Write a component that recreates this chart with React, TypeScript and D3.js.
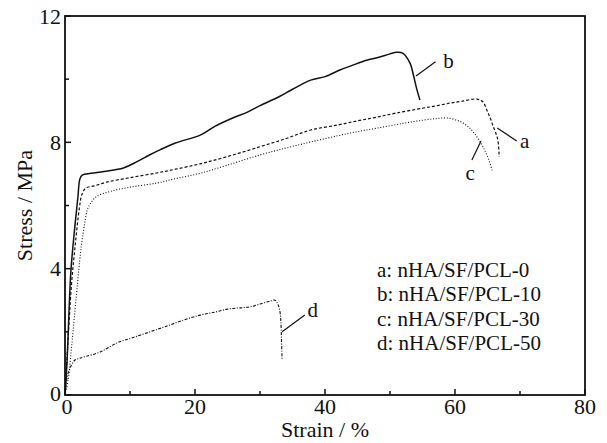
import React from "react";
import * as d3 from "d3";

// strain (%) / stress (MPa)
const strainA = [0, 0.4, 1.0, 1.6, 2.2, 2.6, 3.2, 4.5, 6.4, 10, 14.1, 17, 20.8, 25, 30, 34, 37.8, 42, 45, 48, 51, 55, 57, 59.2, 61, 63.4, 64.3, 64.9, 65.4, 65.9, 66.3, 66.6, 66.8];
const stressA = [0, 1.5, 3.5, 4.8, 5.9, 6.35, 6.55, 6.62, 6.74, 6.88, 7.03, 7.15, 7.32, 7.55, 7.86, 8.12, 8.39, 8.55, 8.68, 8.8, 8.93, 9.08, 9.15, 9.24, 9.3, 9.37, 9.28, 9.02, 8.78, 8.49, 8.28, 8.07, 7.54];

const strainB = [0, 0.3, 0.9, 1.5, 2.0, 2.3, 2.7, 4, 6, 9, 11, 13, 14.6, 17, 20.8, 23, 25.8, 28, 30, 33, 35, 37.8, 40, 42.3, 44, 46.4, 48, 50, 51, 52, 53.1, 53.6, 54.1, 54.6];
const stressB = [0, 1.0, 3.9, 5.3, 6.3, 6.85, 6.97, 7.02, 7.08, 7.19, 7.38, 7.6, 7.76, 7.98, 8.23, 8.5, 8.77, 8.95, 9.16, 9.45, 9.68, 9.97, 10.08, 10.29, 10.42, 10.6, 10.68, 10.8, 10.85, 10.82, 10.5, 10.13, 9.7, 9.34];

const strainC = [0, 0.5, 1.0, 1.5, 2.0, 2.5, 3.0, 3.5, 4.2, 5, 7, 10, 14.1, 17, 20.8, 25, 30, 34, 37.8, 42, 45, 48, 52, 55, 57, 58.8, 60.8, 62, 62.8, 63.6, 64.3, 65.1, 65.8];
const stressC = [0, 0.5, 1.5, 2.6, 3.7, 4.7, 5.4, 5.9, 6.15, 6.3, 6.45, 6.58, 6.71, 6.85, 7.02, 7.28, 7.6, 7.82, 8.01, 8.21, 8.34, 8.45, 8.6, 8.7, 8.75, 8.77, 8.66, 8.5, 8.33, 8.1, 7.86, 7.5, 7.06];

const strainD = [0, 0.2, 0.5, 1.0, 1.5, 2.2, 3.2, 5.4, 8, 10.5, 13.1, 15.5, 18.2, 20.8, 23, 25, 27, 28.5, 30, 31.3, 32.3, 32.8, 33.1, 33.2, 33.3, 33.4];
const stressD = [0, 0.4, 0.7, 0.95, 1.1, 1.16, 1.22, 1.36, 1.65, 1.82, 2.0, 2.17, 2.37, 2.53, 2.62, 2.72, 2.76, 2.79, 2.88, 2.96, 3.0, 2.85, 2.6, 2.37, 1.8, 1.1];

const xTicks = [0, 20, 40, 60, 80];
const xMinor = [10, 30, 50, 70];
const yTicks = [0, 4, 8, 12];
const yMinor = [2, 6, 10];

const legendLabels = ["a: nHA/SF/PCL-0", "b: nHA/SF/PCL-10", "c: nHA/SF/PCL-30", "d: nHA/SF/PCL-50"];

const W = 607, H = 443;
const left = 65, right = 585, top = 16, bottom = 395;
const font = "'Liberation Serif', 'Times New Roman', serif";

export default function App() {
  const x = d3.scaleLinear().domain([0, 80]).range([left, right]);
  const y = d3.scaleLinear().domain([0, 12]).range([bottom, top]);

  const mk = (xs: number[], ys: number[]) =>
    d3.line<number>()
      .x((_, i) => x(xs[i]))
      .y((_, i) => y(ys[i]))
      .curve(d3.curveCatmullRom.alpha(0.5))(xs) || "";

  const series = [
    { d: mk(strainA, stressA), dash: "3,2", w: 1.2 },
    { d: mk(strainB, stressB), dash: "none", w: 1.5 },
    { d: mk(strainC, stressC), dash: "1,1.8", w: 1.1 },
    { d: mk(strainD, stressD), dash: "3,1.5,1,1.5", w: 1.1 },
  ];

  // curve labels with leader lines, in data coordinates
  const notes = [
    { t: "b", x0: 54.0, y0: 10.1, x1: 57.0, y1: 10.55, tx: 58.2, ty: 10.6 },
    { t: "a", x0: 66.5, y0: 8.45, x1: 69.5, y1: 8.04, tx: 70.0, ty: 8.05 },
    { t: "c", x0: 64.0, y0: 8.04, x1: 62.6, y1: 7.44, tx: 61.6, ty: 7.05 },
    { t: "d", x0: 33.4, y0: 2.0, x1: 36.9, y1: 2.53, tx: 37.3, ty: 2.7 },
  ];

  return (
    <svg width={W} height={H} style={{ position: "absolute", left: 0, top: 0, background: "#fff" }}
      fontFamily={font}>
      <rect x={0} y={0} width={W} height={H} fill="#fff" />
      {series.map((s, i) => (
        <path key={i} d={s.d} fill="none" stroke="#111" strokeWidth={s.w}
          strokeDasharray={s.dash} strokeLinejoin="round" />
      ))}
      {notes.map((n) => (
        <g key={n.t}>
          <line x1={x(n.x0)} y1={y(n.y0)} x2={x(n.x1)} y2={y(n.y1)} stroke="#111" strokeWidth={1.2} />
          <text x={x(n.tx)} y={y(n.ty)} dy="0.35em" fontSize={21} fill="#111">{n.t}</text>
        </g>
      ))}
      <rect x={left} y={top} width={right - left} height={bottom - top} fill="none" stroke="#111" strokeWidth={1.8} />
      {xTicks.map((t) => (
        <g key={"x" + t}>
          <line x1={x(t)} x2={x(t)} y1={bottom} y2={bottom - 6} stroke="#111" strokeWidth={1.5} />
          <text x={x(t) + (t === 0 ? 2 : 0)} y={414} textAnchor="middle" fontSize={22} fill="#111">{t}</text>
        </g>
      ))}
      {xMinor.map((t) => (
        <line key={"xm" + t} x1={x(t)} x2={x(t)} y1={bottom} y2={bottom - 4} stroke="#111" strokeWidth={1.5} />
      ))}
      {yTicks.map((t) => (
        <g key={"y" + t}>
          <line x1={left} x2={left + 6} y1={y(t)} y2={y(t)} stroke="#111" strokeWidth={1.5} />
          <text x={61} y={y(t) - (t === 0 ? 2 : 0)} dy="0.35em" textAnchor="end" fontSize={22} fill="#111">{t}</text>
        </g>
      ))}
      {yMinor.map((t) => (
        <line key={"ym" + t} x1={left} x2={left + 4} y1={y(t)} y2={y(t)} stroke="#111" strokeWidth={1.5} />
      ))}
      <text x={(left + right) / 2} y={437} textAnchor="middle" fontSize={22} fill="#111">Strain / %</text>
      <text transform={`translate(32,${(top + bottom) / 2}) rotate(-90)`} textAnchor="middle" fontSize={22} fill="#111">Stress / MPa</text>
      {legendLabels.map((l, i) => (
        <text key={l} x={377} y={277 + i * 24.3} fontSize={21} fill="#111">{l}</text>
      ))}
    </svg>
  );
}
